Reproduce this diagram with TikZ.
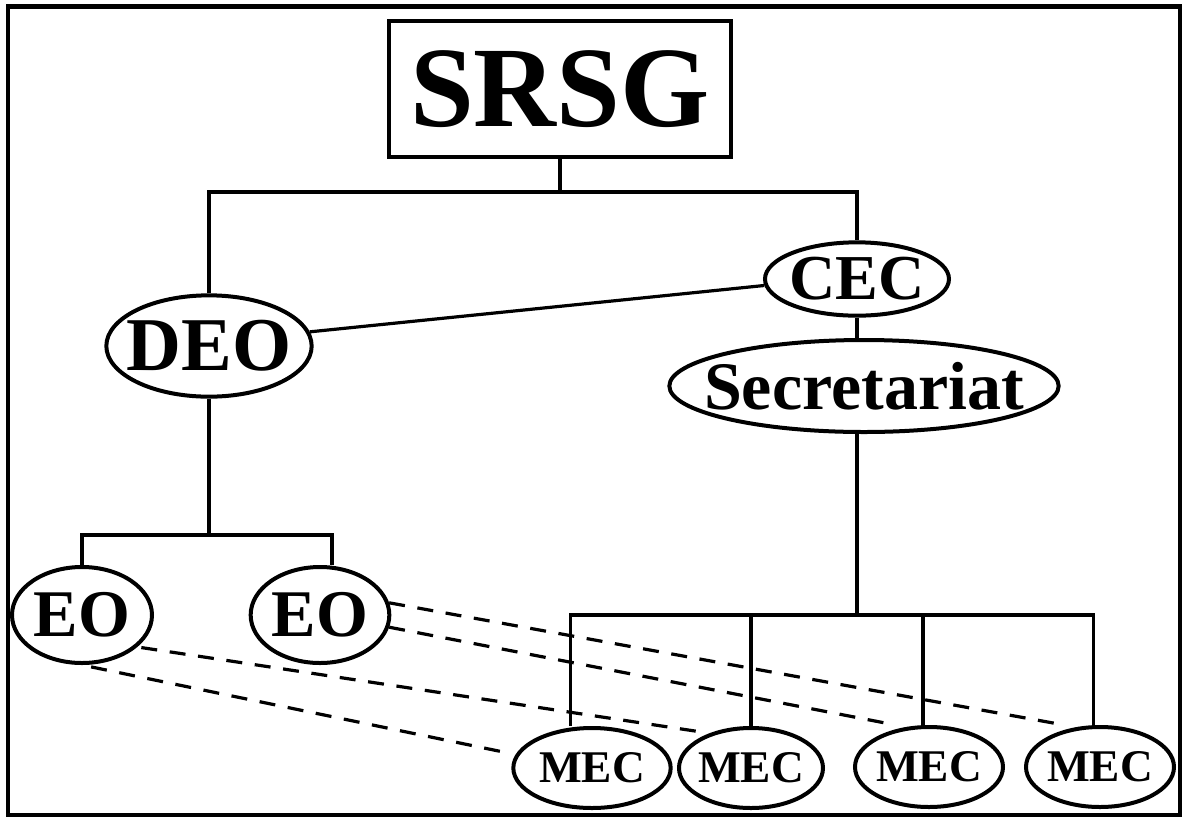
\documentclass[tikz,border=0pt]{standalone}
\usepackage{fontspec}
\setmainfont{Liberation Serif}
\usetikzlibrary{shapes.geometric}

% text that does not widen its oval
\newcommand{\flattext}[1]{\makebox[0pt]{#1}}

\tikzset{
	orgoval/.style={ellipse, draw, line width=3pt, inner sep=0pt},
	link/.style={line width=2.4pt},
	eolink/.style={line width=2.4pt, dash pattern=on 12pt off 9.5pt},
}

\begin{document}
\begin{tikzpicture}[x=0.75pt,y=0.75pt,yscale=-1,xscale=1]
	\useasboundingbox (0,0) rectangle (1183,819);

	% Frame
	\draw [line width=3.6pt] (8,6.5) rectangle (1180,815);

	% Text Node
	\node (srsg) [draw, line width=3pt, inner sep=0pt, minimum width=256pt, minimum height=102pt, font=\fontsize{86pt}{86pt}\selectfont\bfseries] at (560,89) {SRSG};
	% Text Node
	\node (deo) [orgoval, minimum width=154pt, minimum height=76pt, font=\fontsize{57pt}{57pt}\selectfont\bfseries] at (209,346) {\flattext{DEO}};
	% Text Node
	\node (cec) [orgoval, minimum width=138pt, minimum height=55pt, font=\fontsize{48pt}{48pt}\selectfont\bfseries] at (857,279) {\flattext{CEC}};
	% Text Node
	\node (sec) [orgoval, minimum width=292pt, minimum height=69pt, font=\fontsize{51pt}{51pt}\selectfont\bfseries] at (864,386) {\flattext{Secretariat}};
	% Text Node
	\node (eoA) [orgoval, minimum width=105pt, minimum height=72pt, font=\fontsize{50pt}{50pt}\selectfont\bfseries] at (82,615) {\flattext{EO}};
	% Text Node
	\node (eoB) [orgoval, minimum width=104pt, minimum height=72pt, font=\fontsize{50pt}{50pt}\selectfont\bfseries] at (320,615) {\flattext{EO}};
	% Text Node
	\node (mecA) [orgoval, minimum width=118pt, minimum height=60pt, font=\fontsize{34pt}{34pt}\selectfont\bfseries] at (592,768) {\flattext{MEC}};
	% Text Node
	\node (mecB) [orgoval, minimum width=108pt, minimum height=60pt, font=\fontsize{34pt}{34pt}\selectfont\bfseries] at (751,768) {\flattext{MEC}};
	% Text Node
	\node (mecC) [orgoval, minimum width=111pt, minimum height=60pt, font=\fontsize{34pt}{34pt}\selectfont\bfseries] at (929,767) {\flattext{MEC}};
	% Text Node
	\node (mecD) [orgoval, minimum width=111pt, minimum height=60pt, font=\fontsize{34pt}{34pt}\selectfont\bfseries] at (1100,767) {\flattext{MEC}};

	\coordinate (topbus) at (560,192);
	\coordinate (eobus) at (209,535);
	\coordinate (mecbus) at (857,615);

	% Connection
	\draw [link] (srsg.south) -- (topbus);
	% Connection
	\draw [link] (deo.north) |- (topbus) -| (cec.north);
	% Connection
	\draw [link] (deo.8) -- (cec.184);
	% Connection
	\draw [link] (cec.south) -- (cec.south |- sec.north);
	% Connection
	\draw [link] (deo.south) -- (eobus);
	% Connection
	\draw [link] (eoA.north) |- (eobus) -| ([xshift=9pt]eoB.north);
	% Connection
	\draw [link] (sec.south -| mecbus) -- (mecbus);
	% Connection
	\draw [link] ([xshift=-16pt]mecA.north) |- (mecbus) -| ([xshift=-5pt]mecD.north);
	% Connection
	\draw [link] (mecB.north) -- (mecB.north |- mecbus);
	% Connection
	\draw [link] ([xshift=-4.5pt]mecC.north) -- ([xshift=-4.5pt]mecC.north |- mecbus);

	% Dashed links
	\draw [eolink, shorten >=10pt] (eoB.10) -- (mecD.121);
	\draw [eolink, shorten >=10pt] (eoB.350) -- (mecC.120);
	\draw [eolink, shorten <=3pt, shorten >=6pt] (eoA.330) -- (mecB.140);
	\draw [eolink, shorten <=7pt, shorten >=12pt] (eoA.270) -- (mecA.170);

\end{tikzpicture}
\end{document}
